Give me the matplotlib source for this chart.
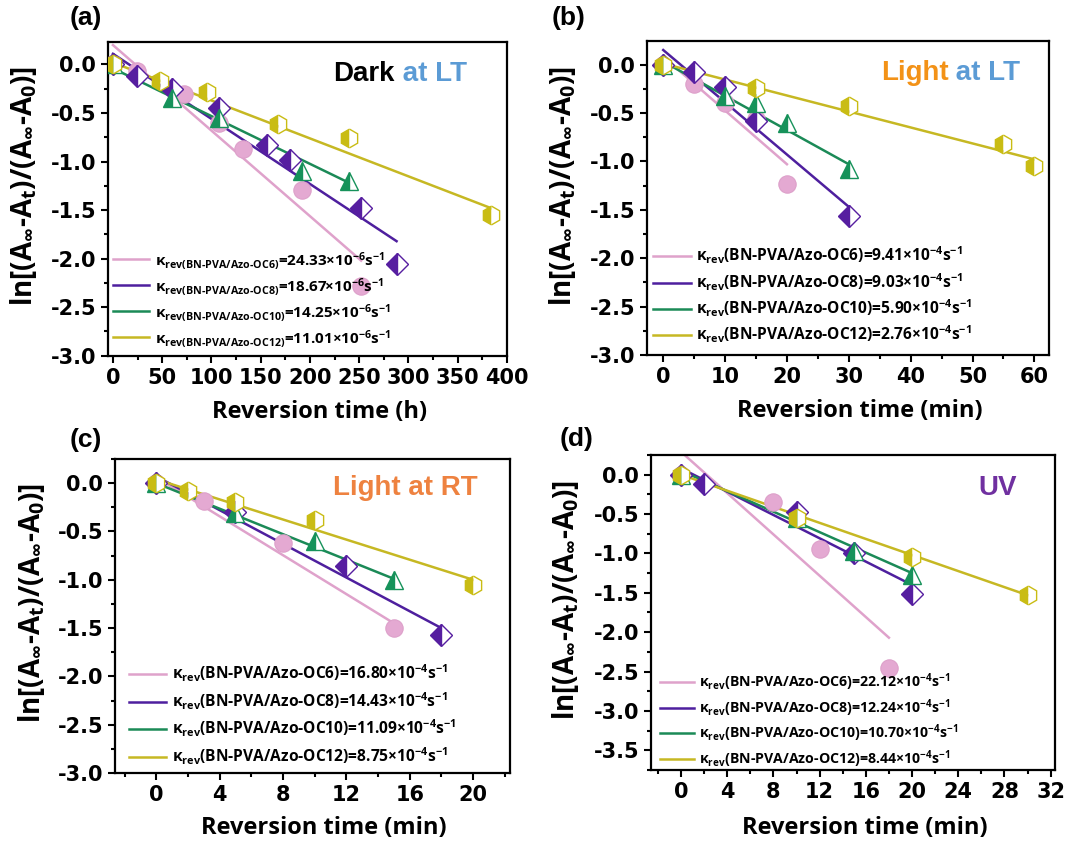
import numpy as np
import matplotlib
matplotlib.use('Agg')
import matplotlib.pyplot as plt
from matplotlib.ticker import MultipleLocator

plt.rcParams['font.family'] = ['Open Sans', 'DejaVu Sans']
plt.rcParams['font.weight'] = 'bold'
plt.rcParams['mathtext.fontset'] = 'custom'
plt.rcParams['mathtext.rm'] = 'Open Sans:bold'
plt.rcParams['mathtext.it'] = 'Open Sans:bold'
plt.rcParams['mathtext.bf'] = 'Open Sans:bold'
plt.rcParams['mathtext.default'] = 'rm'

# ---------------- data ----------------
samples = ['OC6', 'OC8', 'OC10', 'OC12']

# (a) Dark at LT, time in h
a_x = [[0, 24, 72, 108, 132, 192, 252],
       [0, 24, 60, 108, 156, 180, 252, 288],
       [0, 60, 108, 192, 240],
       [0, 48, 96, 168, 240, 384]]
a_y = [[0, -0.07, -0.30, -0.60, -0.87, -1.29, -2.28],
       [0, -0.12, -0.25, -0.45, -0.83, -0.98, -1.48, -2.05],
       [0, -0.35, -0.55, -1.10, -1.20],
       [0, -0.17, -0.28, -0.61, -0.76, -1.55]]
a_fit_x = [[0, 252], [0, 288], [0, 240], [0, 384]]
a_fit_y = [[0.20, -2.02], [0.11, -1.82], [-0.04, -1.22], [0.02, -1.48]]
a_k = ['24.33', '18.67', '14.25', '11.01']

# (b) Light at LT, time in min
b_x = [[0, 5, 10, 15, 20],
       [0, 5, 10, 15, 30],
       [0, 10, 15, 20, 30],
       [0, 15, 30, 55, 60]]
b_y = [[0, -0.20, -0.40, -0.56, -1.23],
       [0, -0.08, -0.23, -0.58, -1.56],
       [0, -0.33, -0.40, -0.60, -1.08],
       [0, -0.24, -0.43, -0.82, -1.05]]
b_fit_x = [[0, 20], [0, 30], [0, 30], [0, 60]]
b_fit_y = [[0.08, -1.03], [0.15, -1.47], [0.03, -1.03], [0.01, -0.98]]
b_k = ['9.41', '9.03', '5.90', '2.76']

# (c) Light at RT
c_x = [[0, 3, 8, 15],
       [0, 5, 12, 18],
       [0, 5, 10, 15],
       [0, 2, 5, 10, 20]]
c_y = [[0, -0.18, -0.62, -1.50],
       [0, -0.30, -0.86, -1.57],
       [0, -0.31, -0.60, -1.00],
       [0, -0.08, -0.19, -0.38, -1.05]]
c_fit_x = [[0, 15], [0, 18], [0, 15], [0, 20]]
c_fit_y = [[0.06, -1.45], [0.07, -1.50], [0.00, -0.99], [0.04, -1.00]]
c_k = ['16.80', '14.43', '11.09', '8.75']

# (d) UV
d_x = [[0, 8, 12, 18],
       [0, 2, 10, 15, 20],
       [0, 10, 15, 20],
       [0, 10, 20, 30]]
d_y = [[0, -0.35, -0.95, -2.45],
       [0, -0.12, -0.48, -0.99, -1.52],
       [0, -0.55, -0.97, -1.27],
       [0, -0.55, -1.04, -1.53]]
d_fit_x = [[0, 18], [0, 20], [0, 20], [0, 30]]
d_fit_y = [[0.29, -2.07], [0.08, -1.40], [0.05, -1.25], [0.00, -1.53]]
d_k = ['22.12', '12.24', '10.70', '8.44']

# ---------------- styles ----------------
line_colors = ['#DFA2CB', '#4E1F9E', '#1B8A57', '#C6B823']
mk_colors = ['#E4A9D2', '#561EA0', '#16925A', '#C9BC14']
markers = ['o', 'D', '^', 'h']
msizes = [12.5, 11, 13, 13.5]

fig = plt.figure(figsize=(10.75, 8.43), dpi=100)


def make_panel(rect, xs, ys, fxs, fys, ks, expo, xlim, ylim, xmaj, xmin, xlabel, xlab_y,
               leg_anchor, leg_size, leg_space, sub_all, title_parts, title_pos):
    ax = fig.add_axes(rect)
    for i in range(4):
        ax.plot(fxs[i], fys[i], color=line_colors[i], lw=1.8, zorder=2)
    for i in range(4):
        if markers[i] == 'o':
            ax.plot(xs[i], ys[i], ls='none', marker='o', ms=msizes[i], mfc=mk_colors[i],
                    mec='#DDA0CA', mew=0.8, zorder=3)
        else:
            ax.plot(xs[i], ys[i], ls='none', marker=markers[i], ms=msizes[i],
                    fillstyle='left', mfc=mk_colors[i], mfcalt='white',
                    mec=mk_colors[i], mew=1.0, zorder=3)
    # legend handles: lines only
    handles = []
    for i in range(4):
        if sub_all:
            lab = (r'$\kappa_{rev(BN\text{-}PVA/Azo\text{-}' + samples[i] + ')}$' +
                   '=' + ks[i] + '×10$^{-' + expo + '}$s$^{-1}$')
        else:
            lab = (r'$\kappa_{rev}$(BN-PVA/Azo-' + samples[i] + ')=' + ks[i] +
                   '×10$^{-' + expo + '}$s$^{-1}$')
        h, = ax.plot([], [], color=line_colors[i], lw=1.8, label=lab)
        handles.append(h)
    ax.legend(handles=handles, loc='lower left', bbox_to_anchor=leg_anchor, frameon=False,
              fontsize=leg_size, handlelength=2.4, handletextpad=0.35,
              labelspacing=leg_space, borderpad=0, borderaxespad=0)

    ax.set_xlim(*xlim)
    ax.set_ylim(*ylim)
    ax.xaxis.set_major_locator(MultipleLocator(xmaj))
    ax.xaxis.set_minor_locator(MultipleLocator(xmin))
    ax.yaxis.set_major_locator(MultipleLocator(0.5))
    ax.yaxis.set_minor_locator(MultipleLocator(0.25))
    ax.tick_params(which='both', direction='out', width=1.5, labelsize=15,
                   labelfontfamily='DejaVu Sans')
    ax.tick_params(which='major', length=5)
    ax.tick_params(which='minor', length=3)
    ax.yaxis.set_major_formatter(matplotlib.ticker.FuncFormatter(lambda v, p: f'{v:.1f}'))
    for s in ax.spines.values():
        s.set_linewidth(1.6)
    ax.set_xlabel(xlabel, fontsize=17, fontweight='bold')
    ax.xaxis.set_label_coords(0.53, xlab_y)
    ax.set_ylabel(r'ln[(A$_{\infty}$-A$_{t}$)/(A$_{\infty}$-A$_{0}$)]', fontsize=20,
                  fontweight='bold')
    ax.yaxis.set_label_coords(-0.172, 0.54)

    # coloured inset title, right aligned
    last = None
    for txt, col in reversed(title_parts):
        if last is None:
            last = ax.text(title_pos[0], title_pos[1], txt, transform=ax.transAxes,
                           ha='right', va='center', fontsize=20, fontweight='bold',
                           color=col, family='Liberation Sans')
        else:
            last = ax.annotate(txt, xy=(0, 0), xycoords=last, ha='right', va='bottom',
                               fontsize=20, fontweight='bold', color=col,
                               family='Liberation Sans')
    return ax


BLUE = '#5B9BD5'
ORANGE = '#F39217'

make_panel([0.1005, 0.578, 0.371, 0.372], a_x, a_y, a_fit_x, a_fit_y, a_k, '6',
           (-5, 400), (-3.0, 0.23), 50, 25, 'Reversion time (h)', -0.14,
           (0.012, 0.022), 11, 0.34, True,
           [('Dark', 'black'), (' at LT', BLUE)], (0.90, 0.90))

make_panel([0.602, 0.579, 0.374, 0.372], b_x, b_y, b_fit_x, b_fit_y, b_k, '4',
           (-2.6, 62.4), (-3.0, 0.24), 10, 5, 'Reversion time (min)', -0.14,
           (0.015, 0.03), 11.2, 0.32, False,
           [('Light', ORANGE), (' at LT', BLUE)], (0.928, 0.90))

make_panel([0.107, 0.083, 0.367, 0.3725], c_x, c_y, c_fit_x, c_fit_y, c_k, '4',
           (-2.6, 22.3), (-3.0, 0.25), 4, 2, 'Reversion time (min)', -0.137,
           (0.035, 0.02), 11.2, 0.39, False,
           [('Light at RT', '#EE8240')], (0.919, 0.908))

make_panel([0.6056, 0.0866, 0.376, 0.3737], d_x, d_y, d_fit_x, d_fit_y, d_k, '4',
           (-2.6, 32.4), (-3.75, 0.25), 4, 2, 'Reversion time (min)', -0.146,
           (0.022, 0.0), 10.2, 0.28, False,
           [('UV', '#7030A0')], (0.906, 0.895))

for lab, x, y in [('(a)', 0.065, 0.993), ('(b)', 0.513, 0.993),
                  ('(c)', 0.065, 0.492), ('(d)', 0.521, 0.494)]:
    fig.text(x, y, lab, fontsize=19, fontweight='bold', ha='left', va='top',
             family='Liberation Sans')

fig.savefig('out.png', dpi=100)
